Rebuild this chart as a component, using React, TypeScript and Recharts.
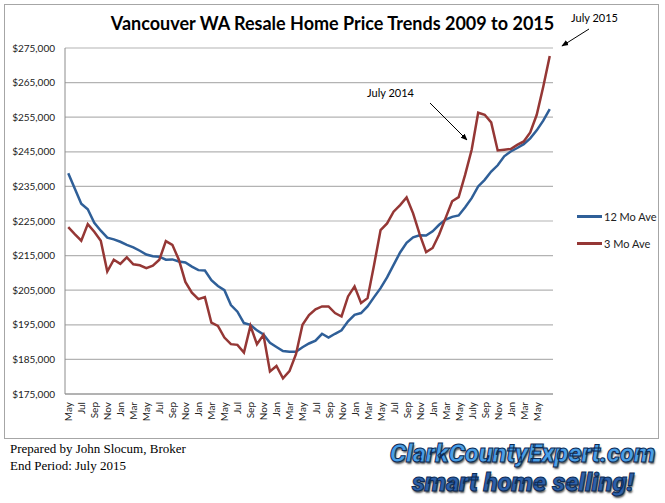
import React from 'react';
import { CartesianGrid, Line, LineChart, XAxis, YAxis } from 'recharts';

const months = [
	'May', 'Jun', 'Jul', 'Aug', 'Sep', 'Oct', 'Nov', 'Dec',
	'Jan', 'Feb', 'Mar', 'Apr', 'May', 'Jun', 'Jul', 'Aug', 'Sep', 'Oct', 'Nov', 'Dec',
	'Jan', 'Feb', 'Mar', 'Apr', 'May', 'Jun', 'Jul', 'Aug', 'Sep', 'Oct', 'Nov', 'Dec',
	'Jan', 'Feb', 'Mar', 'Apr', 'May', 'Jun', 'Jul', 'Aug', 'Sep', 'Oct', 'Nov', 'Dec',
	'Jan', 'Feb', 'Mar', 'Apr', 'May', 'Jun', 'Jul', 'Aug', 'Sep', 'Oct', 'Nov', 'Dec',
	'Jan', 'Feb', 'Mar', 'Apr', 'May', 'Jun', 'July', 'Aug', 'Sep', 'Oct', 'Nov', 'Dec',
	'Jan', 'Feb', 'Mar', 'Apr', 'May', 'Jun', 'Jul',
];

const ave12 = [
	238800, 234400, 230000, 228400, 224500, 222200, 220200, 219700, 219000, 218100,
	217400, 216400, 215300, 214800, 214700, 213800, 213900, 213300, 213000, 211800,
	210800, 210700, 207900, 206200, 205000, 200700, 198800, 195500, 195000, 193400,
	192200, 189800, 188600, 187400, 187200, 187200, 188500, 189600, 190400, 192400,
	191300, 192400, 193400, 196000, 197900, 198400, 200300, 203000, 205600, 208700,
	212300, 215900, 218700, 220300, 220900, 220800, 222000, 223900, 225400, 226200,
	226600, 229000, 231600, 235000, 236900, 239300, 241100, 243700, 245100, 246100,
	247200, 248900, 251200, 254000, 257300,
];

const ave3 = [
	223200, 221200, 219300, 224100, 221900, 219300, 210400, 213800, 212600, 214500,
	212500, 212200, 211400, 212100, 213800, 219200, 218100, 213800, 207400, 204300,
	202400, 203000, 195600, 194700, 191300, 189400, 189200, 187000, 194700, 189400,
	192100, 181500, 183100, 179500, 181600, 186500, 195000, 197800, 199500, 200300,
	200300, 198400, 197400, 203200, 206100, 201300, 202700, 212300, 222400, 224300,
	227700, 229600, 231800, 227200, 221200, 216000, 217200, 221100, 225900, 230700,
	231900, 238400, 245600, 256300, 255700, 253500, 245400, 245600, 245800, 247000,
	248000, 250600, 255700, 263800, 272700,
];

const yTicks = [175000, 185000, 195000, 205000, 215000, 225000, 235000, 245000, 255000, 265000, 275000];

const data = months.map((m, i) => ({ month: m, ave12: ave12[i], ave3: ave3[i] }));

const BLUE = '#2f5f98';
const RED = '#953735';
const LABEL_FONT = 'Lato, "Open Sans", sans-serif';

// the last month (Jul 2015) has no label in the original
const MonthTick = (props: any) => {
	const { x, y, payload, index } = props;
	if (payload.index === months.length - 1 || index === months.length - 1) return null;
	return (
		<text
			x={x}
			y={y}
			transform={`rotate(-90 ${x} ${y})`}
			textAnchor='end'
			dominantBaseline='central'
			fontSize={10}
			fontFamily={LABEL_FONT}
			fill='#222'
		>
			{payload.value}
		</text>
	);
};

const legendItems = [
	{ color: BLUE, name: '12 Mo Ave' },
	{ color: RED, name: '3 Mo Ave' },
];

const App = () => {
	return (
		<div style={{ position: 'absolute', left: 0, top: 0, width: 665, height: 503, background: '#fff' }}>
			<div
				style={{
					position: 'absolute',
					left: 4,
					top: 4,
					width: 655,
					height: 435,
					border: '1px solid #a6a6a6',
					boxSizing: 'border-box',
				}}
			/>
			<div
				style={{
					position: 'absolute',
					left: 0,
					top: 12,
					width: 665,
					textAlign: 'center',
					fontFamily: LABEL_FONT,
					fontWeight: 700,
					fontSize: 18,
					color: '#000',
				}}
			>
				Vancouver WA Resale Home Price Trends 2009 to 2015
			</div>
			<div style={{ position: 'absolute', left: 0, top: 0 }}>
				<LineChart width={665} height={440} data={data} margin={{ top: 48, right: 112, bottom: 6, left: 8 }}>
					<CartesianGrid vertical={false} stroke='#b3b3b3' strokeWidth={1.2} />
					<XAxis
						dataKey='month'
						interval={1}
						tick={<MonthTick />}
						tickLine={false}
						axisLine={{ stroke: '#8c8c8c' }}
						padding={{ left: 3.25, right: 3.25 }}
						height={40}
						tickMargin={2}
					/>
					<YAxis
						domain={[175000, 275000]}
						ticks={yTicks}
						tickFormatter={(v: number) => `$${v.toLocaleString('en-US')}`}
						tick={{ fontSize: 10, fontFamily: LABEL_FONT, fill: '#222' }}
						tickLine={false}
						tickSize={8}
						axisLine={{ stroke: '#8c8c8c' }}
						width={57}
						allowDataOverflow
					/>
					<Line
						dataKey='ave12'
						name='12 Mo Ave'
						stroke={BLUE}
						strokeWidth={2.5}
						dot={false}
						type='linear'
						isAnimationActive={false}
					/>
					<Line
						dataKey='ave3'
						name='3 Mo Ave'
						stroke={RED}
						strokeWidth={2.5}
						dot={false}
						type='linear'
						isAnimationActive={false}
					/>
				</LineChart>
			</div>
			<div style={{ position: 'absolute', left: 577, top: 203, fontFamily: LABEL_FONT, fontSize: 11, color: '#222' }}>
				{legendItems.map((item) => (
					<div key={item.name} style={{ display: 'flex', alignItems: 'center', height: 27 }}>
						<span
							style={{ display: 'inline-block', width: 25, height: 3, background: item.color, marginRight: 2 }}
						/>
						{item.name}
					</div>
				))}
			</div>
			<svg width={665} height={503} style={{ position: 'absolute', left: 0, top: 0, pointerEvents: 'none' }}>
				<defs>
					<marker id='arrow' viewBox='0 0 10 10' refX='9' refY='5' markerWidth='7' markerHeight='7' orient='auto'>
						<path d='M0,1 L10,5 L0,9 z' fill='#000' />
					</marker>
				</defs>
				<text x={571} y={22} fontSize={11} fontFamily={LABEL_FONT} fill='#000'>
					July 2015
				</text>
				<line x1={589} y1={29} x2={562} y2={46} stroke='#000' strokeWidth={1} markerEnd='url(#arrow)' />
				<text x={367} y={97} fontSize={11} fontFamily={LABEL_FONT} fill='#000'>
					July 2014
				</text>
				<line x1={430} y1={103} x2={467} y2={140} stroke='#000' strokeWidth={1} markerEnd='url(#arrow)' />
			</svg>
			<div
				style={{
					position: 'absolute',
					left: 10,
					top: 440,
					fontFamily: '"Liberation Serif", "Times New Roman", serif',
					fontSize: 13,
					lineHeight: '17px',
					color: '#000',
				}}
			>
				<div>Prepared by John Slocum, Broker</div>
				<div>End Period: July 2015</div>
			</div>
			<div
				style={{
					position: 'absolute',
					left: 380,
					top: 440,
					width: 285,
					textAlign: 'center',
					fontFamily: 'Roboto, sans-serif',
					fontWeight: 900,
					fontStyle: 'italic',
					letterSpacing: -0.3,
					WebkitTextStroke: '1px #0c2b56',
					textShadow: '1px 2px 2px #555',
				}}
			>
				<div style={{ fontSize: 26, lineHeight: '26px', height: 29, color: '#4a9ee6' }}>ClarkCountyExpert.com</div>
				<div style={{ fontSize: 26, lineHeight: '26px', color: '#2c5fa8' }}>smart home selling!</div>
			</div>
		</div>
	);
};

export default App;
